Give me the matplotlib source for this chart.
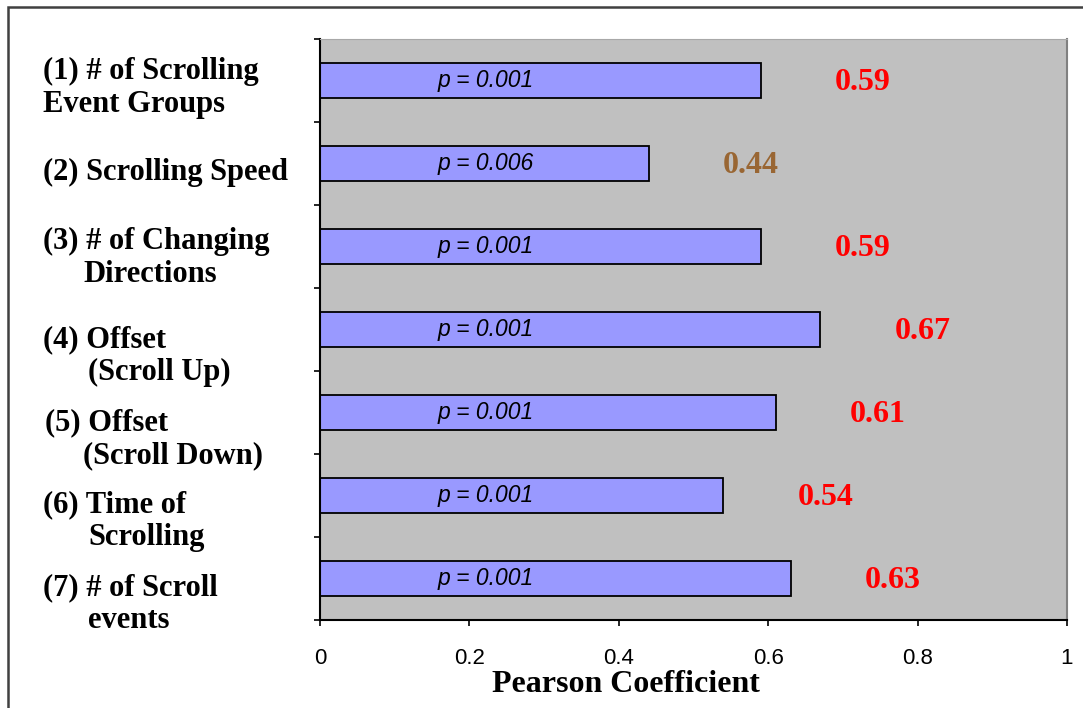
import matplotlib.pyplot as plt
from matplotlib.patches import Rectangle
from matplotlib import transforms

# data (top to bottom)
label_line1 = ["(1) # of Scrolling", "(2) Scrolling Speed", "(3) # of Changing",
               "(4) Offset", "(5) Offset", "(6) Time of", "(7) # of Scroll"]
label_line2 = ["Event Groups", "", "Directions", "(Scroll Up)", "(Scroll Down)",
               "Scrolling", "events"]
pearson = [0.59, 0.44, 0.59, 0.67, 0.61, 0.54, 0.63]
p_values = ["0.001", "0.006", "0.001", "0.001", "0.001", "0.001", "0.001"]
value_colors = ["#FF0000", "#996633", "#FF0000", "#FF0000", "#FF0000", "#FF0000", "#FF0000"]
x_ticks = [0, 0.2, 0.4, 0.6, 0.8, 1]

# label layout (pixels)
line1_x = [43, 43, 43, 43, 45, 43, 43]
line2_x = [43, 0, 83, 88, 83, 88, 88]
label_shift = [-9, 9, -5, 10, 10, 9, 9]
line_gap = 33

W, H = 1083, 708
fig = plt.figure(figsize=(W / 100, H / 100), dpi=100)
ax = fig.add_axes([320 / W, 1 - 620 / H, (1067 - 320) / W, (620 - 39) / H])
ax.set_facecolor("#C0C0C0")
unit = (620 - 39) / 7.0

ypos = list(range(len(pearson)))
ax.barh(ypos, pearson, height=0.42, color="#9999FF", edgecolor="black", linewidth=1.3)

ax.set_xlim(0, 1)
ax.set_ylim(len(pearson) - 0.5, -0.5)
ax.set_yticks([i - 0.5 for i in range(len(pearson) + 1)])
ax.set_yticklabels([])
ax.set_xticks(x_ticks)
ax.set_xticklabels([("%g" % t) for t in x_ticks], fontfamily="Liberation Sans", fontsize=16)
ax.tick_params(axis="both", direction="out", length=4.5, width=1.2, color="black")
ax.tick_params(axis="x", pad=16)

for s in ["left", "bottom"]:
    ax.spines[s].set_color("black")
    ax.spines[s].set_linewidth(1.5)
ax.spines["top"].set_color("#A8A8A8")
ax.spines["right"].set_color("#808080")
ax.spines["right"].set_linewidth(1.5)

# value and p annotations
for i, v in enumerate(pearson):
    ax.text(v + 0.099, i + 0.03, "%.2f" % v, color=value_colors[i], fontsize=23,
            fontweight="bold", family="Liberation Serif", ha="left", va="center")
    ax.text(0.157, i, "p = " + p_values[i], fontsize=16.5, style="italic",
            family="Liberation Sans", ha="left", va="center")

# category labels on the left
trans = transforms.blended_transform_factory(fig.transFigure, ax.transData)
lab = dict(fontsize=22, fontweight="bold", family="Liberation Serif",
           ha="left", va="center", transform=trans)
for i in range(len(pearson)):
    y1 = i + label_shift[i] / unit
    ax.text(line1_x[i] / W, y1, label_line1[i], **lab)
    if label_line2[i]:
        ax.text(line2_x[i] / W, y1 + line_gap / unit, label_line2[i], **lab)

fig.text(626 / W, 1 - 685 / H, "Pearson Coefficient", fontsize=23, fontweight="bold",
         family="Liberation Serif", ha="center", va="center")

# outer frame of the chart area
fig.add_artist(Rectangle((8 / W, -0.1), 1.2, 1.1 - 7 / H, transform=fig.transFigure,
                         fill=False, edgecolor="#404040", linewidth=1.8, clip_on=False))

fig.savefig("out.png", dpi=100)
